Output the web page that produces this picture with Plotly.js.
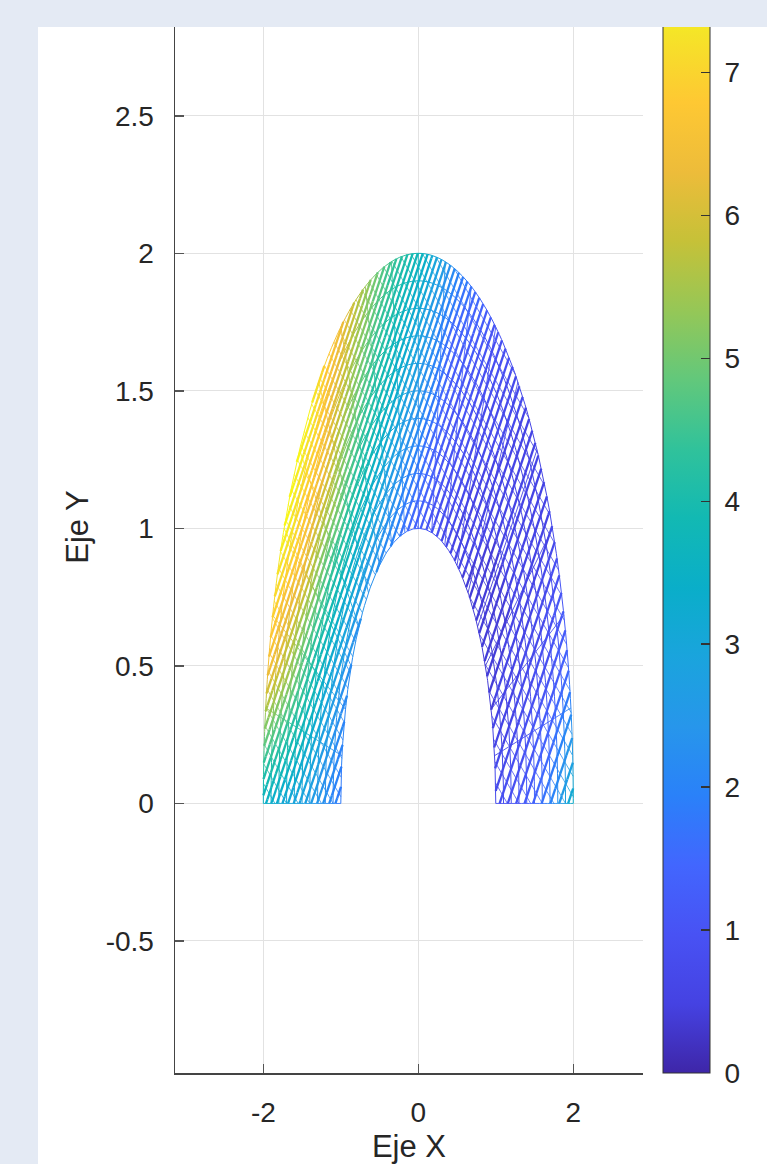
<!DOCTYPE html>
<html><head><meta charset="utf-8">
<script src="https://cdn.plot.ly/plotly-3.0.1.min.js"></script>
<style>
html,body{margin:0;padding:0;width:767px;height:1164px;overflow:hidden;background:#fff;}
#chart{position:absolute;left:0;top:-19px;width:767px;height:1183px;}
.band{position:absolute;background:#e4eaf4;z-index:10;}
</style></head><body>
<div id="chart"></div>
<div class="band" style="left:0;top:0;width:767px;height:27px"></div>
<div class="band" style="left:0;top:0;width:38px;height:1164px"></div>
<script>
// ---- data ----
const radii = [1, 1.25, 1.5, 1.75, 2];
const anglesDeg = [0, 15, 30, 45, 60, 75, 90, 105, 120, 135, 150, 165, 180];
const zR100 = [0.8, 0.5, 0.4, 0.4, 0.5, 0.8, 1.3, 1.8, 2.2, 2.4, 2.2, 2.0, 1.8];
const zR125 = [1.0, 0.6, 0.45, 0.45, 0.6, 1.0, 1.8, 2.6, 3.3, 3.6, 3.4, 2.9, 2.3];
const zR150 = [1.4, 0.8, 0.5, 0.5, 0.7, 1.2, 2.5, 3.5, 4.4, 5.1, 4.9, 4.1, 2.8];
const zR175 = [2.1, 1.0, 0.55, 0.55, 0.85, 1.4, 3.0, 4.2, 5.4, 6.5, 6.6, 5.4, 3.1];
const zR200 = [3.4, 1.4, 0.65, 0.6, 1.0, 2.0, 3.8, 4.9, 6.4, 7.5, 7.6, 6.6, 3.5];
const zTable = [zR100, zR125, zR150, zR175, zR200];
const zMin = 0, zMax = 7.64;

// mesh definition (data space)
const meshArcRadii = [1, 1.1, 1.2, 1.3, 1.4, 1.5, 1.6, 1.7, 1.8, 1.9, 2];
const meshRadialAngles = [0, 10, 20, 30, 40, 50, 60, 70, 80, 90, 100, 110, 120, 130, 140, 150, 160, 170, 180];
const slantA = 1.18;   // lines x - 1.18*y = c (dense on the left, sparser to the right)
const slantB = 2.05, slantBStep = 0.15;    // lines x + 2.05*y = c

const xTickVals = [-2, 0, 2];
const xTickText = ['-2', '0', '2'];
const yTickVals = [-0.5, 0, 0.5, 1, 1.5, 2, 2.5];
const yTickText = ['-0.5', '0', '0.5', '1', '1.5', '2', '2.5'];
const cbTickVals = [0, 1, 2, 3, 4, 5, 6, 7];
const cbTickText = ['0', '1', '2', '3', '4', '5', '6', '7'];

const parula = [
  [0.000, 'rgb(62,38,168)'], [0.063, 'rgb(69,66,226)'], [0.127, 'rgb(72,82,244)'],
  [0.190, 'rgb(66,102,254)'], [0.254, 'rgb(42,129,249)'], [0.317, 'rgb(39,150,235)'],
  [0.381, 'rgb(26,164,221)'], [0.444, 'rgb(10,174,201)'], [0.508, 'rgb(18,185,179)'],
  [0.571, 'rgb(48,194,155)'], [0.635, 'rgb(98,200,123)'], [0.698, 'rgb(149,199,87)'],
  [0.762, 'rgb(198,193,56)'], [0.825, 'rgb(237,188,58)'], [0.889, 'rgb(254,200,51)'],
  [0.952, 'rgb(245,228,40)'], [1.000, 'rgb(249,251,21)']
];

// ---- helpers ----
function parseRgb(s){ return s.match(/\d+/g).map(Number); }
function colorAt(t){
  t = Math.max(0, Math.min(1, t));
  for (let i = 0; i < parula.length - 1; i++) {
    const [p0, c0] = parula[i], [p1, c1] = parula[i+1];
    if (t <= p1) {
      const f = (t - p0) / (p1 - p0), a = parseRgb(c0), b = parseRgb(c1);
      return 'rgb(' + a.map((v, k) => Math.round(v + (b[k]-v)*f)).join(',') + ')';
    }
  }
  return parula[parula.length-1][1];
}
function zAt(x, y){
  let r = Math.hypot(x, y), th = Math.atan2(y, x) * 180 / Math.PI;
  if (th < 0) th = (x > 0) ? 0 : 180;
  r = Math.max(radii[0], Math.min(radii[radii.length-1], r));
  th = Math.max(0, Math.min(180, th));
  let i = 0; while (i < radii.length - 2 && r > radii[i+1]) i++;
  let j = 0; while (j < anglesDeg.length - 2 && th > anglesDeg[j+1]) j++;
  const fr = (r - radii[i]) / (radii[i+1] - radii[i]);
  const ft = (th - anglesDeg[j]) / (anglesDeg[j+1] - anglesDeg[j]);
  const z00 = zTable[i][j], z01 = zTable[i][j+1], z10 = zTable[i+1][j], z11 = zTable[i+1][j+1];
  return (z00*(1-ft) + z01*ft)*(1-fr) + (z10*(1-ft) + z11*ft)*fr;
}
const EPS = 1e-9;
function inside(p){ const r = Math.hypot(p[0], p[1]); return p[1] >= -EPS && r >= 1 - EPS && r <= 2 + EPS; }
function bisect(f, ta, tb){
  const ina = inside(f(ta));
  for (let k = 0; k < 30; k++) { const tm = (ta+tb)/2; if (inside(f(tm)) === ina) ta = tm; else tb = tm; }
  return ina ? ta : tb;
}
function runsOf(f, t0, t1, n){
  const runs = []; let cur = null;
  let prevT = t0, prevIn = inside(f(t0));
  if (prevIn) cur = [f(t0)];
  for (let i = 1; i <= n; i++) {
    const t = t0 + (t1 - t0) * i / n, p = f(t), pin = inside(p);
    if (pin && prevIn) cur.push(p);
    else if (pin && !prevIn) { cur = [f(bisect(f, prevT, t)), p]; }
    else if (!pin && prevIn) { cur.push(f(bisect(f, prevT, t))); runs.push(cur); cur = null; }
    prevT = t; prevIn = pin;
  }
  if (cur && cur.length > 1) runs.push(cur);
  return runs;
}
const NB = 48;
function family(polylines, width){
  const bins = Array.from({length: NB}, () => ({x: [], y: []}));
  polylines.forEach(pts => {
    let prev = -1;
    for (let i = 0; i < pts.length - 1; i++) {
      const a = pts[i], b = pts[i+1];
      const z = zAt((a[0]+b[0])/2, (a[1]+b[1])/2);
      let bi = Math.floor((z - zMin) / (zMax - zMin) * NB); bi = Math.max(0, Math.min(NB-1, bi));
      const B = bins[bi];
      if (bi !== prev) { if (B.x.length) { B.x.push(null); B.y.push(null); } B.x.push(a[0]); B.y.push(a[1]); }
      B.x.push(b[0]); B.y.push(b[1]);
      prev = bi;
    }
  });
  const out = [];
  bins.forEach((B, idx) => {
    if (!B.x.length) return;
    out.push({type: 'scatter', mode: 'lines', x: B.x, y: B.y,
      line: {color: colorAt((idx + 0.5) / NB), width: width},
      hoverinfo: 'skip', showlegend: false});
  });
  return out;
}

// ---- build mesh polylines ----
let polyA = [], polyB = [], polyArc = [], polyRad = [];
for (let c = -3.2; c <= 2.0 + 1e-9; c += 0.055 + 0.012 * (c + 3.2)) {
  polyA = polyA.concat(runsOf(t => [c + slantA*t, t], 0, 2.05, 420));
}
for (let c = -2.0; c <= 4.7; c += slantBStep) {
  polyB = polyB.concat(runsOf(t => [c - slantB*t, t], 0, 2.05, 420));
}
meshArcRadii.forEach(r => polyArc = polyArc.concat(runsOf(t => [r*Math.cos(t), r*Math.sin(t)], 0, Math.PI, 360)));
meshRadialAngles.forEach(a => { const th = a*Math.PI/180;
  polyRad = polyRad.concat(runsOf(t => [t*Math.cos(th), t*Math.sin(th)], 1, 2, 30)); });

const traces = [].concat(
  family(polyB, 0.8),
  family(polyA, 2.3),
  family(polyArc, 1.0),
  family(polyRad, 0.9)
);

// mesh nodes (carry the colour scale / colorbar)
const nodeX = [], nodeY = [], nodeZ = [];
radii.forEach((r, i) => anglesDeg.forEach((a, j) => {
  nodeX.push(r*Math.cos(a*Math.PI/180)); nodeY.push(r*Math.sin(a*Math.PI/180)); nodeZ.push(zTable[i][j]);
}));
traces.push({type: 'scatter', mode: 'markers', x: nodeX, y: nodeY, hoverinfo: 'skip', showlegend: false,
  marker: {size: 1, opacity: 0, color: nodeZ, cmin: zMin, cmax: zMax, colorscale: parula, showscale: true,
    colorbar: {x: 1.0427, xanchor: 'left', y: 0, yanchor: 'bottom', len: 1, lenmode: 'fraction',
      ypad: 0, xpad: 0, thickness: 47, thicknessmode: 'pixels', outlinewidth: 1, outlinecolor: '#333',
      tickvals: cbTickVals, ticktext: cbTickText.map(s => '<span style="color:rgba(0,0,0,0)">.</span>' + s),
      ticks: 'inside', ticklen: 9, tickwidth: 1.5, tickcolor: '#333',
      tickfont: {size: 28, color: '#262626', family: 'Liberation Sans, Arial, sans-serif'}}}});

const layout = {
  width: 767, height: 1183,
  margin: {l: 175, r: 124, t: 0, b: 91, pad: 0},
  paper_bgcolor: '#ffffff', plot_bgcolor: '#ffffff',
  font: {family: 'Liberation Sans, Arial, sans-serif', color: '#262626', size: 28},
  showlegend: false,
  xaxis: {range: [-3.14, 2.9], tickvals: xTickVals, ticktext: xTickText, showgrid: true, gridcolor: '#e2e2e2', gridwidth: 1,
    zeroline: false, showline: true, linecolor: '#444', linewidth: 1.5, mirror: false,
    ticks: 'inside', ticklen: 9, tickwidth: 1.5, tickcolor: '#555', ticklabelstandoff: 14,
    title: {text: 'Eje X', font: {size: 31}, standoff: 8}},
  yaxis: {range: [-0.98, 2.99], tickvals: yTickVals, ticktext: yTickText, showgrid: true, gridcolor: '#e2e2e2', gridwidth: 1,
    zeroline: false, showline: true, linecolor: '#444', linewidth: 1.5, mirror: false,
    ticks: 'inside', ticklen: 9, tickwidth: 1.5, tickcolor: '#555', ticklabelstandoff: 14,
    title: {text: 'Eje Y', font: {size: 31}, standoff: 8}}
};
Plotly.newPlot('chart', traces, layout, {staticPlot: true});
</script>
</body></html>
